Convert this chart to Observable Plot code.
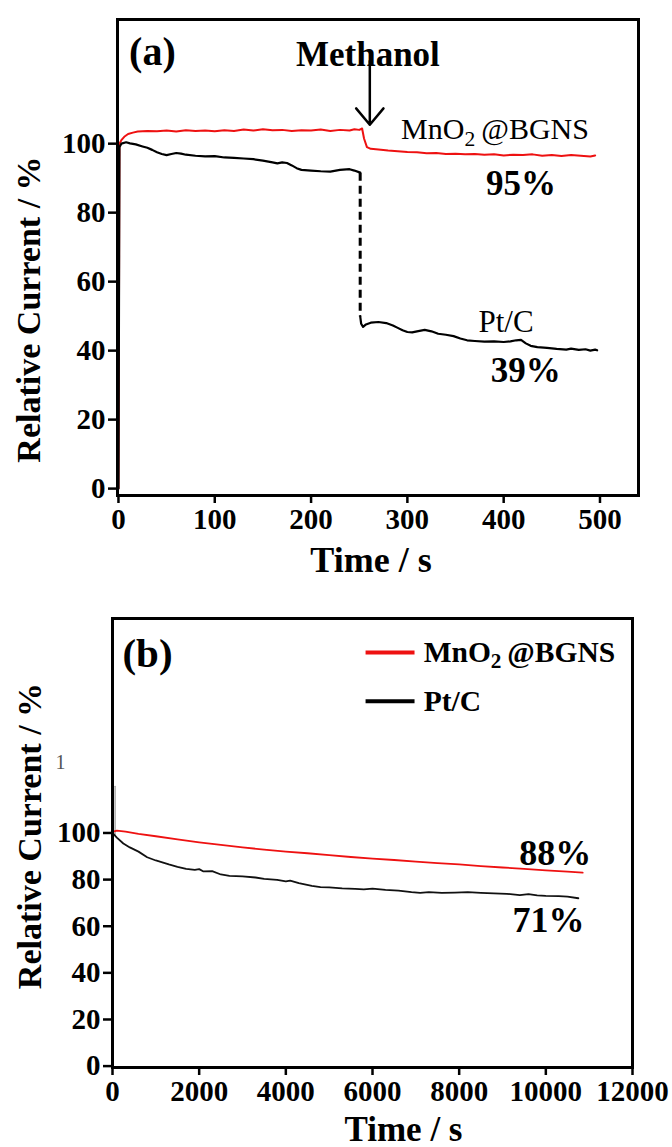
<!DOCTYPE html>
<html>
<head>
<meta charset="utf-8">
<script src="https://cdn.jsdelivr.net/npm/d3@7"></script>
<script src="https://cdn.jsdelivr.net/npm/@observablehq/plot@0.6"></script>
<style>
  html, body { margin: 0; padding: 0; background: #fff; }
  body { width: 672px; overflow: hidden; }
  svg { display: block; }
  svg text, svg tspan { font-family: "Liberation Serif", "Times New Roman", Times, serif !important; }
</style>
</head>
<body>
<div id="panelA"></div>
<div id="panelB"></div>
<script>
// ---------- DATA ----------
// Panel (a): chronoamperometry with methanol injection, [time s, relative current %]
const mnA = [[0,0],[1,100],[3,101],[6,102],[10,102.8],[15,103.2],[20,103.5],
  [30,103.7],[40,103.6],[50,103.8],[60,103.5],[70,103.9],[80,103.7],[90,103.8],[100,103.6],
  [110,103.9],[120,103.7],[130,104.1],[140,103.8],[150,104.2],[160,103.9],[170,104.0],[180,103.7],
  [190,103.9],[200,103.8],[210,104.1],[220,103.7],[230,104.0],[240,103.8],[245,104.2],[250,104.0],
  [253,104.4],[255,101.5],[258,99.0],[262,98.5],[270,98.3],[280,98.0],[290,97.8],[300,97.6],
  [310,97.5],[320,97.2],[330,97.3],[340,97.0],[350,97.1],[360,96.9],[370,97.0],[380,96.8],
  [390,96.9],[400,96.6],[410,96.8],[420,96.7],[430,96.9],[440,96.5],[450,96.7],[460,96.4],
  [470,96.7],[480,96.5],[490,96.3],[495,96.6]];
const ptA_before = [[0,0],[1,99],[3,100],[8,100.4],[12,100.1],[18,99.8],[25,99.2],[30,98.8],[35,98.2],
  [40,97.5],[45,97.0],[50,96.7],[55,97.0],[60,97.3],[65,97.1],[70,96.8],[80,96.5],[90,96.3],
  [100,96.4],[110,96.0],[120,95.9],[130,95.7],[140,95.5],[150,95.1],[160,94.6],[165,94.3],
  [170,94.6],[175,94.4],[180,93.7],[185,92.9],[190,92.4],[200,92.2],[210,92.0],[220,91.9],
  [230,92.4],[240,92.6],[245,92.2],[251,91.6]];
const ptA_after = [[251,50],[252,47.8],[254,46.9],[257,47.6],[262,48.1],[270,48.3],[278,48.0],
  [285,47.3],[290,46.6],[295,45.9],[300,45.4],[305,45.3],[310,45.6],[318,46.0],[325,45.6],
  [332,44.9],[340,44.6],[348,44.2],[355,43.5],[362,43.0],[370,42.8],[380,42.6],[390,42.7],
  [400,42.5],[407,42.7],[413,43.0],[418,43.1],[423,42.1],[428,41.4],[435,41.0],[445,40.8],
  [455,40.5],[465,40.3],[470,40.6],[478,40.2],[485,40.4],[490,40.0],[495,40.3],[497,40.1]];
const xTicksA = [0, 100, 200, 300, 400, 500];
const yTicksA = [0, 20, 40, 60, 80, 100];
// annotation labels in panel (a): [text, time, value]
const labelsA = [["(a)", 11, 126.4], ["Methanol", 259, 125.8], ["MnO2@BGNS", 293.5, 104],
  ["95%", 418, 88.4], ["Pt/C", 402.5, 48.4], ["39%", 423, 34.2]];
const arrowA = {t: 261, from: 124, to: 105.5};

// Panel (b): long-term stability, [time s, relative current %]
const mnB = [[0,100.5],[100,101],[300,100.6],[600,99.6],[1000,98.6],[1500,97.3],[2000,96.0],
  [2500,94.9],[3000,93.8],[3500,92.9],[4000,92.0],[4500,91.3],[5000,90.5],[5500,89.7],[6000,89.0],
  [6500,88.4],[7000,87.7],[7500,87.1],[8000,86.5],[8500,85.8],[9000,85.2],[9500,84.6],[10000,84.0],
  [10500,83.4],[10850,83.0]];
const ptB = [[0,100],[100,98],[250,95.5],[400,93.8],[600,92],[800,89.6],[1000,88.2],[1300,86.5],
  [1500,85.5],[1700,84.6],[1900,84.2],[2000,84.5],[2100,83.5],[2300,83.6],[2500,82.2],[2700,81.6],
  [3000,81.4],[3300,80.9],[3500,80.3],[3800,79.9],[4000,79.2],[4100,79.6],[4300,78.5],[4600,77.3],
  [4800,76.8],[5000,76.7],[5300,76.2],[5600,76.0],[5800,75.8],[6000,76.1],[6300,75.6],[6600,75.3],
  [6900,74.6],[7100,74.3],[7300,74.6],[7600,74.3],[7900,74.4],[8200,74.6],[8500,74.3],[8800,74.1],
  [9100,73.9],[9400,73.3],[9600,73.8],[9800,73.2],[10000,73.0],[10300,72.9],[10500,72.7],[10750,72.0]];
const ptB_spike = [[60,120],[60,99]];
const xTicksB = [0, 2000, 4000, 6000, 8000, 10000, 12000];
const yTicksB = [0, 20, 40, 60, 80, 100];
const legendB = [["MnO2@BGNS", "#ee1111", 177.4], ["Pt/C", "#000000", 156.5]];
const legendSpanB = [5840, 6970, 7180];
const labelsB = [["(b)", 230, 177], ["88%", 10220, 91], ["71%", 10060, 62.4]];

// ---------- HELPERS ----------
const SERIF = "Liberation Serif, Times New Roman, Times, serif";
const RED = "#ee1111";
const toObj = arr => arr.map(([t, v]) => ({t, v}));
const fmt = d => String(d);

function subscriptify(svg) {
  svg.querySelectorAll("text").forEach(el => {
    if (el.textContent === "MnO2@BGNS") {
      el.textContent = "";
      const ns = "http://www.w3.org/2000/svg";
      const a = document.createElementNS(ns, "tspan"); a.textContent = "MnO";
      const b = document.createElementNS(ns, "tspan"); b.textContent = "2";
      b.setAttribute("font-size", "0.72em"); b.setAttribute("dy", "0.3em");
      const c = document.createElementNS(ns, "tspan"); c.textContent = "\u2009@BGNS";
      c.setAttribute("dy", "-0.22em");
      el.append(a, b, c);
    }
  });
  svg.setAttribute("font-family", SERIF);
  return svg;
}

const STYLE = {fontFamily: SERIF, background: "white", overflow: "visible"};
const T = {fontFamily: SERIF};

// ---------- PANEL (a) ----------
const plotA = Plot.plot({
  width: 672, height: 590,
  marginLeft: 117, marginRight: 34, marginTop: 19, marginBottom: 95,
  style: STYLE,
  x: {domain: [-1, 540]},
  y: {domain: [-2, 136]},
  marks: [
    Plot.axisX(xTicksA, {...T, tickSize: 8, tickPadding: 5, tickFormat: fmt, fontSize: 29, fontWeight: "bold", strokeWidth: 2.5, label: null}),
    Plot.axisY(yTicksA, {...T, tickSize: 9, tickPadding: 3, tickFormat: fmt, fontSize: 29, fontWeight: "bold", strokeWidth: 2.5, label: null}),
    Plot.line(toObj(mnA), {x: "t", y: "v", stroke: RED, strokeWidth: 2}),
    Plot.line(toObj(ptA_before), {x: "t", y: "v", stroke: "black", strokeWidth: 2.2}),
    Plot.line(toObj(ptA_after), {x: "t", y: "v", stroke: "black", strokeWidth: 2.2}),
    Plot.link([{a: ptA_before[ptA_before.length - 1], b: ptA_after[0]}], {
      x1: d => d.a[0], y1: d => d.a[1], x2: d => d.b[0], y2: d => d.b[1],
      stroke: "black", strokeWidth: 3, strokeDasharray: "8,5"}),
    Plot.arrow([arrowA], {x1: "t", y1: "from", x2: "t", y2: "to", stroke: "black", strokeWidth: 2.5, headAngle: 80, headLength: 16}),
    Plot.text(labelsA.filter(d => d[0] === "(a)"), {...T, x: d => d[1], y: d => d[2], text: d => d[0], textAnchor: "start", fontSize: 40, fontWeight: "bold"}),
    Plot.text(labelsA.filter(d => d[0] === "Methanol"), {...T, x: d => d[1], y: d => d[2], text: d => d[0], fontSize: 35, fontWeight: "bold"}),
    Plot.text(labelsA.filter(d => d[0] === "MnO2@BGNS"), {...T, x: d => d[1], y: d => d[2], text: d => d[0], textAnchor: "start", fontSize: 30, fontWeight: "normal"}),
    Plot.text(labelsA.filter(d => d[0] === "Pt/C"), {...T, x: d => d[1], y: d => d[2], text: d => d[0], fontSize: 31, fontWeight: "normal"}),
    Plot.text(labelsA.filter(d => d[0].endsWith("%")), {...T, x: d => d[1], y: d => d[2], text: d => d[0], fontSize: 35, fontWeight: "bold"}),
    Plot.text(["Time / s"], {...T, frameAnchor: "bottom", textAnchor: "middle", lineAnchor: "middle", dx: -7, dy: 65, fontSize: 36, fontWeight: "bold"}),
    Plot.text(["Relative Current / %"], {...T, frameAnchor: "left", textAnchor: "middle", lineAnchor: "middle", rotate: -90, dx: -88, dy: 52, fontSize: 34, fontWeight: "bold"}),
    Plot.frame({stroke: "black", strokeWidth: 3})
  ]
});
document.getElementById("panelA").append(subscriptify(plotA));

// ---------- PANEL (b) ----------
const plotB = Plot.plot({
  width: 672, height: 557,
  marginLeft: 112, marginRight: 40, marginTop: 28, marginBottom: 80,
  style: STYLE,
  x: {domain: [0, 12000]},
  y: {domain: [-0.6, 192]},
  marks: [
    Plot.axisX(xTicksB, {...T, tickSize: 8, tickPadding: 5, tickFormat: fmt, fontSize: 29, fontWeight: "bold", strokeWidth: 2.5, label: null}),
    Plot.axisY(yTicksB, {...T, tickSize: 9, tickPadding: 3, tickFormat: fmt, fontSize: 29, fontWeight: "bold", strokeWidth: 2.5, label: null}),
    Plot.line(toObj(ptB_spike), {x: "t", y: "v", stroke: "#9a9a9a", strokeWidth: 1.2}),
    Plot.line(toObj(mnB), {x: "t", y: "v", stroke: RED, strokeWidth: 1.8}),
    Plot.line(toObj(ptB), {x: "t", y: "v", stroke: "#111", strokeWidth: 1.8}),
    Plot.link(legendB, {x1: legendSpanB[0], x2: legendSpanB[1], y1: d => d[2], y2: d => d[2], stroke: d => d[1], strokeWidth: 4}),
    Plot.text(legendB, {...T, x: legendSpanB[2], y: d => d[2], text: d => d[0], textAnchor: "start", fontSize: 29.5, fontWeight: "bold"}),
    Plot.text(labelsB.filter(d => d[0] === "(b)"), {...T, x: d => d[1], y: d => d[2], text: d => d[0], textAnchor: "start", fontSize: 41, fontWeight: "bold"}),
    Plot.text(labelsB.filter(d => d[0].endsWith("%")), {...T, x: d => d[1], y: d => d[2], text: d => d[0], fontSize: 36, fontWeight: "bold"}),
    Plot.text(["1"], {...T, x: -1200, y: 130, fontSize: 20, fontWeight: "normal", fill: "#555"}),
    Plot.text(["Time / s"], {...T, frameAnchor: "bottom", textAnchor: "middle", lineAnchor: "middle", dx: 31, dy: 62, fontSize: 35, fontWeight: "bold"}),
    Plot.text(["Relative Current / %"], {...T, frameAnchor: "left", textAnchor: "middle", lineAnchor: "middle", rotate: -90, dx: -82, dy: -7, fontSize: 34, fontWeight: "bold"}),
    Plot.frame({stroke: "black", strokeWidth: 3})
  ]
});
document.getElementById("panelB").append(subscriptify(plotB));
</script>
</body>
</html>
